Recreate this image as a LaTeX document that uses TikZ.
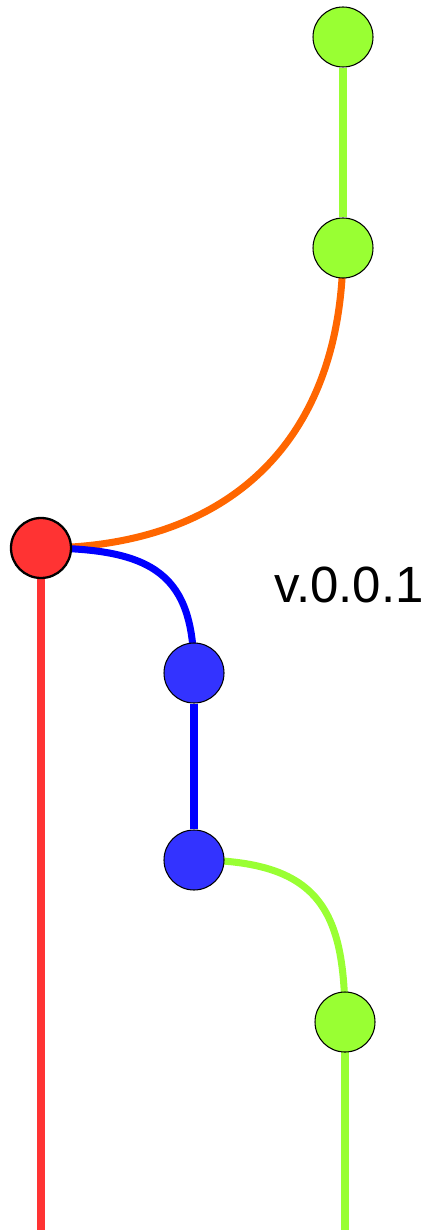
\documentclass[tikz,border=0pt]{standalone}
\usepackage{fontspec}
\setsansfont{Liberation Sans}
\usepackage{xcolor}
\usepackage{tikz}
\usetikzlibrary{backgrounds}

\definecolor{commitgreen}{RGB}{153,255,51}
\definecolor{commitred}{RGB}{255,51,51}
\definecolor{commitblue}{RGB}{51,51,255}
\definecolor{branchblue}{RGB}{0,0,255}
\definecolor{branchorange}{RGB}{255,102,0}

\begin{document}
\begin{tikzpicture}[
    commit/.style={circle, draw=black, line width=0.6pt, minimum size=1.2cm, inner sep=0pt},
    branch/.style={line width=4pt}
  ]
    \useasboundingbox (0,0) rectangle (8.58,-24.6) ;
    % commits
    \node[commit, fill=commitgreen] at (6.86,-0.74) (dev1) {} ;
    \node[commit, fill=commitgreen] at (6.86,-4.96) (dev2) {} ;
    \node[commit, fill=commitred, line width=1.3pt] at (0.82,-10.96) (master) {} ;
    \node[commit, fill=commitblue] at (3.88,-13.46) (feat1) {} ;
    \node[commit, fill=commitblue] at (3.88,-17.2) (feat2) {} ;
    \node[commit, fill=commitgreen] at (6.9,-20.44) (dev3) {} ;
    \node[font=\sffamily\fontsize{29}{33}\selectfont] at (6.98,-11.7) (tag) {v.0.0.1} ;
    \coordinate (masterend) at (0.82,-24.6) ;
    \coordinate (devend) at (6.9,-24.6) ;
    % branches
    \begin{scope}[on background layer]
      \draw[branch, commitgreen] (dev1) -- (dev2) ;
      \draw[branch, branchorange] (master.center) .. controls (4.6,-10.96) and (6.86,-8.8) .. (dev2.center) ;
      \draw[branch, branchblue] (master.center) .. controls (3.1,-10.96) and (3.88,-11.5) .. (feat1.center) ;
      \draw[branch, branchblue] (feat1) -- (feat2) ;
      \draw[branch, commitgreen] (feat2.center) .. controls (6.4,-17.2) and (6.9,-18.2) .. (dev3.center) ;
      \draw[branch, commitred] (master.center) -- (masterend) ;
      \draw[branch, commitgreen] (dev3.center) -- (devend) ;
    \end{scope}
\end{tikzpicture}
\end{document}
